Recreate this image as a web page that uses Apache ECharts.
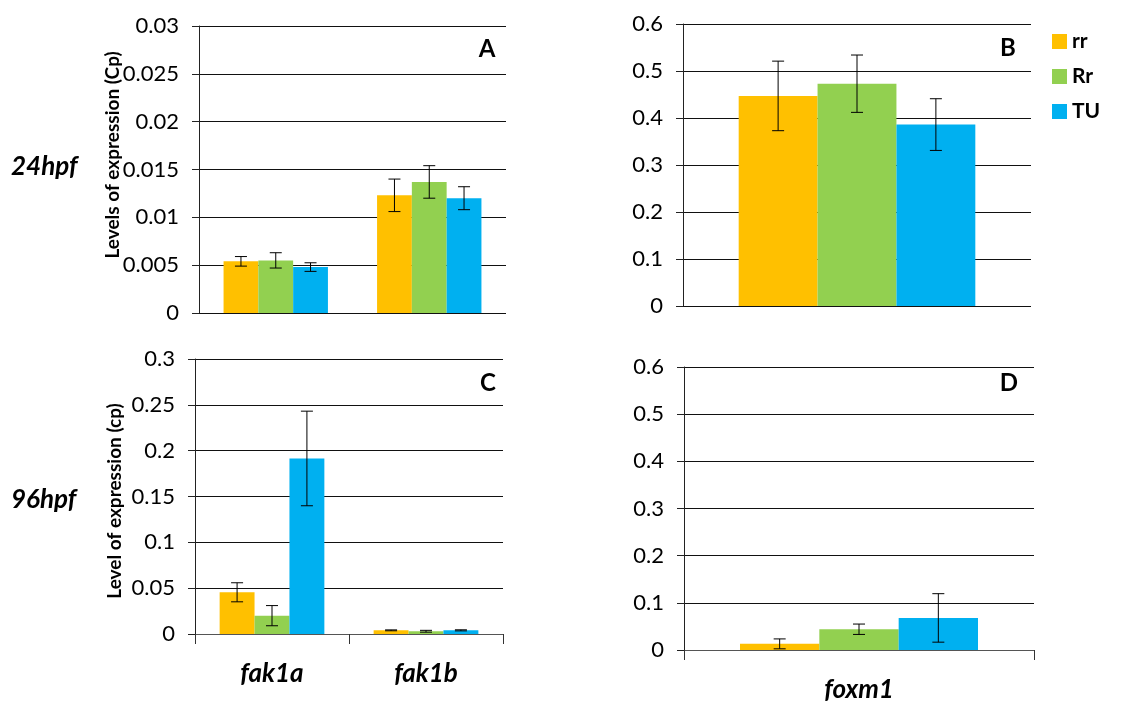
<!DOCTYPE html>
<html>
<head>
<meta charset="utf-8">
<title>fak1a / fak1b / foxm1 expression</title>
<script src="https://cdn.jsdelivr.net/npm/echarts@6/dist/echarts.min.js"></script>
<style>
  html, body { margin: 0; padding: 0; background: #fff; }
  #chart { width: 1125px; height: 705px; }
</style>
</head>
<body>
<div id="chart"></div>
<script>
// Genotypes and genes
const genotypes = ['rr', 'Rr', 'TU'];
const fakGenes = ['fak1a', 'fak1b'];
const foxGenes = ['foxm1'];

// Mean expression (Cp), rows follow genotypes (rr, Rr, TU)
const fak24Mean = [[0.0054, 0.0123], [0.0055, 0.0137], [0.0048, 0.0120]];
const fak24Err  = [[0.0005, 0.0017], [0.0008, 0.0017], [0.00045, 0.0012]];
const fox24Mean = [[0.447], [0.473], [0.386]];
const fox24Err  = [[0.074], [0.061], [0.055]];
const fak96Mean = [[0.0455, 0.004], [0.020, 0.003], [0.1915, 0.004]];
const fak96Err  = [[0.0104, 0.0005], [0.011, 0.001], [0.0516, 0.0006]];
const fox96Mean = [[0.013], [0.044], [0.068]];
const fox96Err  = [[0.0105], [0.011], [0.0514]];

// Axis ranges
const yMaxA = 0.03, yStepA = 0.005;
const yMaxB = 0.6,  yStepB = 0.1;
const yMaxC = 0.3,  yStepC = 0.05;
const yMaxD = 0.6,  yStepD = 0.1;

const barColors = ['#FFC000', '#92D050', '#00B0F0'];
const FONT = 'Lato, "Open Sans", sans-serif';
const GAP = 0.32;

const chart = echarts.init(document.getElementById('chart'), null, { renderer: 'canvas' });

const grids = [
  { left: 199, top: 26,  width: 307, height: 287 },
  { left: 683, top: 24,  width: 348, height: 282 },
  { left: 195, top: 359, width: 308, height: 275 },
  { left: 684, top: 367, width: 350, height: 283 }
];

function yAxis(gi, max, step) {
  return {
    type: 'value', gridIndex: gi, min: 0, max: max, interval: step,
    axisLine: { show: true, lineStyle: { color: '#222', width: 1 } },
    axisTick: { show: true, length: 7, lineStyle: { color: '#222' } },
    axisLabel: { color: '#000', fontSize: 22, fontFamily: FONT, margin: 20 },
    splitLine: { show: true, lineStyle: { color: '#111', width: 1 } }
  };
}

function xAxis(gi, cats, showAxis) {
  return {
    type: 'category', gridIndex: gi, data: cats,
    axisLine: { show: showAxis, lineStyle: { color: '#555', width: 1 } },
    axisTick: { show: showAxis, length: 10, lineStyle: { color: '#333' } },
    axisLabel: {
      show: showAxis, color: '#000', fontSize: 26, fontWeight: 'bold',
      fontStyle: 'italic', fontFamily: FONT, margin: 27
    },
    splitLine: { show: false }
  };
}

const series = [];
const panels = [
  { gi: 0, mean: fak24Mean, err: fak24Err },
  { gi: 1, mean: fox24Mean, err: fox24Err },
  { gi: 2, mean: fak96Mean, err: fak96Err },
  { gi: 3, mean: fox96Mean, err: fox96Err }
];

panels.forEach(p => {
  genotypes.forEach((g, k) => {
    series.push({
      type: 'bar', name: g, xAxisIndex: p.gi, yAxisIndex: p.gi,
      data: p.mean[k], barGap: '0%', barCategoryGap: (GAP * 100) + '%',
      itemStyle: { color: barColors[k] }, emphasis: { disabled: true }
    });
  });
  // error bars (mean ± error), placed on each bar of the group
  genotypes.forEach((g, k) => {
    series.push({
      type: 'custom', name: 'sem-' + g, xAxisIndex: p.gi, yAxisIndex: p.gi, z: 5,
      data: p.mean[k].map((m, i) => [i, m, p.err[k][i]]),
      encode: { x: 0, y: 1 },
      renderItem: function (params, api) {
        const ci = api.value(0), m = api.value(1), e = api.value(2);
        const band = api.size([1, 0])[0];
        const bw = band * (1 - GAP) / 3;
        const off = (k - 1) * bw;
        const hi = api.coord([ci, m + e]);
        const lo = api.coord([ci, m - e]);
        const x = hi[0] + off;
        const cap = 6;
        const st = { stroke: '#000', lineWidth: 1 };
        return {
          type: 'group',
          children: [
            { type: 'line', shape: { x1: x, y1: hi[1], x2: x, y2: lo[1] }, style: st },
            { type: 'line', shape: { x1: x - cap, y1: hi[1], x2: x + cap, y2: hi[1] }, style: st },
            { type: 'line', shape: { x1: x - cap, y1: lo[1], x2: x + cap, y2: lo[1] }, style: st }
          ]
        };
      }
    });
  });
});

function label(text, x, y, size, opts) {
  return Object.assign({
    type: 'text', x: x, y: y,
    style: {
      text: text, fill: '#000', font: 'bold ' + size + 'px ' + FONT,
      textAlign: 'center', textVerticalAlign: 'middle'
    }
  }, opts || {});
}

chart.setOption({
  animation: false,
  backgroundColor: '#fff',
  grid: grids,
  xAxis: [xAxis(0, fakGenes, false), xAxis(1, foxGenes, false), xAxis(2, fakGenes, true), xAxis(3, foxGenes, true)],
  yAxis: [yAxis(0, yMaxA, yStepA), yAxis(1, yMaxB, yStepB), yAxis(2, yMaxC, yStepC), yAxis(3, yMaxD, yStepD)],
  legend: {
    data: genotypes, orient: 'vertical', left: 1052, top: 31, padding: 0,
    itemWidth: 15, itemHeight: 15, itemGap: 14, icon: 'rect',
    textStyle: { color: '#000', fontSize: 21, fontWeight: 'bold', fontFamily: FONT }
  },
  graphic: [
    label('A', 487, 49, 24),
    label('B', 1008, 48, 24),
    label('C', 488, 383, 24),
    label('D', 1009, 383, 24),
    { type: 'text', x: 11, y: 167, style: { text: '24hpf', fill: '#000', font: 'italic bold 26px ' + FONT, textAlign: 'left', textVerticalAlign: 'middle' } },
    { type: 'text', x: 11, y: 500, style: { text: '96hpf', fill: '#000', font: 'italic bold 26px ' + FONT, textAlign: 'left', textVerticalAlign: 'middle' } },
    label('Levels of expression (Cp)', 113, 155, 19, { rotation: Math.PI / 2 }),
    label('Level of expression (cp)', 115, 501, 19, { rotation: Math.PI / 2 })
  ],
  series: series
});
</script>
</body>
</html>
